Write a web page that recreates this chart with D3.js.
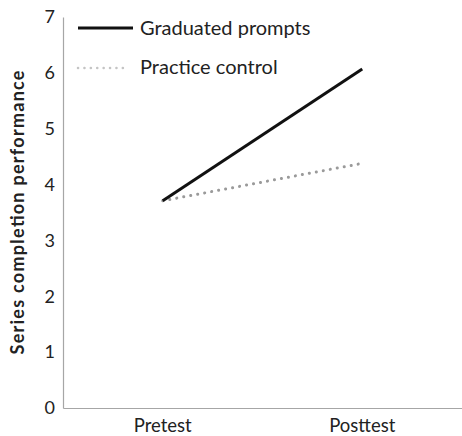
<!DOCTYPE html>
<html><head><meta charset="utf-8">
<script src="https://cdn.jsdelivr.net/npm/d3@7"></script>
<style>body{margin:0;background:#fff}svg{display:block}text{font-family:Lato,"Open Sans",sans-serif;fill:#222}</style>
</head><body>
<script>
const categories = ["Pretest", "Posttest"];
const graduated = [3.71, 6.07];
const practice = [3.71, 4.38];
const yTicks = [0, 1, 2, 3, 4, 5, 6, 7];
const seriesNames = ["Graduated prompts", "Practice control"];

const W = 462, H = 436;
const m = {left: 63, right: 0, top: 17, bottom: 28};
const svg = d3.select("body").append("svg").attr("width", W).attr("height", H);
const x = d3.scaleBand().domain(categories).range([m.left, W - m.right]);
const y = d3.scaleLinear().domain([0, 7]).range([H - m.bottom, m.top]);

// axes
const yAxis = svg.append("g").attr("transform", `translate(${m.left},0)`)
  .call(d3.axisLeft(y).tickValues(yTicks).tickFormat(d3.format("d")).tickSize(0).tickPadding(8));
yAxis.select(".domain").attr("stroke", "#a6a6a6").attr("stroke-width", 1.2);
yAxis.selectAll("text").style("font-size", "18px").attr("fill", "#222");

const xAxis = svg.append("g").attr("transform", `translate(0,${H - m.bottom})`)
  .call(d3.axisBottom(x).tickSize(0).tickPadding(0));
xAxis.select(".domain").attr("stroke", "#a6a6a6").attr("stroke-width", 1.2);
xAxis.selectAll("text").attr("dy", null).attr("y", 24).style("font-size", "18.5px").attr("fill", "#222");

svg.append("text").attr("transform", `translate(19,${y(3.5)}) rotate(-90)`)
  .attr("text-anchor", "middle").attr("dominant-baseline", "middle")
  .attr("textLength", 284).attr("lengthAdjust", "spacing")
  .style("font-size", "18px").style("font-weight", "bold").text("Series completion performance");

const line = d3.line().x((d, i) => x(categories[i]) + x.bandwidth() / 2).y(d => y(d));
svg.append("path").datum(practice).attr("d", line).attr("fill", "none")
  .attr("stroke", "#9a9a9a").attr("stroke-width", 3).attr("stroke-linecap", "round").attr("stroke-dasharray", "0.1 7");
svg.append("path").datum(graduated).attr("d", line).attr("fill", "none")
  .attr("stroke", "#111").attr("stroke-width", 3);

// legend
const lg = svg.append("g");
lg.append("line").attr("x1", 78).attr("x2", 133).attr("y1", 28).attr("y2", 28).attr("stroke", "#111").attr("stroke-width", 3);
lg.append("text").attr("x", 140).attr("y", 35).style("font-size", "20px").text(seriesNames[0]);
lg.append("line").attr("x1", 78).attr("x2", 129).attr("y1", 68).attr("y2", 68).attr("stroke", "#c4c4c4").attr("stroke-width", 2.5).attr("stroke-linecap", "round").attr("stroke-dasharray", "0.1 6.3");
lg.append("text").attr("x", 140).attr("y", 74).style("font-size", "20px").text(seriesNames[1]);
</script>
</body></html>
